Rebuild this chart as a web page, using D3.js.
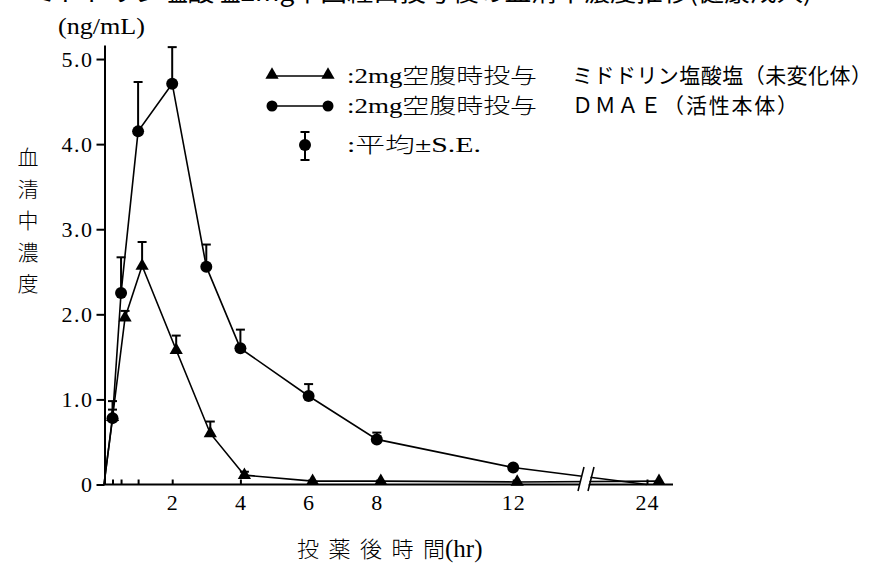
<!DOCTYPE html>
<html>
<head>
<meta charset="utf-8">
<script src="https://cdn.jsdelivr.net/npm/d3@7"></script>
<style>
  body { margin: 0; background: #fff; }
  .serif { font-family: "Liberation Serif", "Noto Sans CJK JP", serif; }
  .gothic { font-family: "Noto Sans CJK JP", sans-serif; }
</style>
</head>
<body>
<div id="chart"></div>
<script>
var times = [0, 0.25, 0.5, 1, 2, 3, 4, 6, 8, 12, 24];
var midodrine = [0, 0.79, 1.96, 2.57, 1.58, 0.60, 0.11, 0.04, 0.04, 0.03, 0.04];
var midodrineSE = [null, 0.09, 0.08, 0.28, 0.17, 0.14, 0.04, null, null, null, null];
var dmae = [0, 0.78, 2.25, 4.15, 4.71, 2.56, 1.60, 1.04, 0.53, 0.20, 0];
var dmaeSE = [null, 0.20, 0.42, 0.58, 0.43, 0.26, 0.22, 0.14, 0.08, null, null];

var xTicks = [0.25, 0.5, 1, 2, 4, 6, 8, 12, 24];
var xLabels = [2, 4, 6, 8, 12, 24];
var yTicks = [0, 1, 2, 3, 4, 5];

var legendText = [":2mg空腹時投与", ":2mg空腹時投与", ":平均±S.E."];
var legendNote = ["ミドドリン塩酸塩（未変化体）", "ＤＭＡＥ（活性本体）"];
var yTitle = "血清中濃度";

var svgWidth = 885;
var svgHeight = 563;

var svg = d3.select("#chart")
  .append("svg")
  .attr("width", svgWidth)
  .attr("height", svgHeight);

var xScale = d3.scaleLinear()
  .domain([0, 12, 24])
  .range([104, 513.2, 647]);

var yScale = d3.scaleLinear()
  .domain([0, 5.165])
  .range([484.5, 45]);

var dodge = 4;

// caption, mostly above the page edge like in the scan
svg.append("text")
  .attr("class", "gothic")
  .attr("x", 30)
  .attr("y", 1)
  .attr("font-size", 24)
  .attr("textLength", 782)
  .attr("lengthAdjust", "spacingAndGlyphs")
  .text("ミドドリン塩酸塩2mg単回経口投与後の血清中濃度推移(健康成人)");

// axes
var leftAxis = d3.axisLeft(yScale)
  .tickValues(yTicks)
  .tickSizeInner(8)
  .tickSizeOuter(0)
  .tickPadding(3)
  .tickFormat(d => d === 0 ? "0" : d3.format(".1f")(d));

var yAxisG = svg.append("g")
  .attr("transform", "translate(104.5,0)")
  .call(leftAxis);
yAxisG.select(".domain").attr("stroke-width", 2);
yAxisG.selectAll(".tick line").attr("stroke-width", 2);
yAxisG.selectAll("text")
  .attr("class", "serif")
  .attr("font-size", 22)
  .attr("letter-spacing", 1.5)
  .attr("fill", "#000");

var bottomAxis = d3.axisBottom(xScale)
  .tickValues(xTicks)
  .tickSizeInner(-5)
  .tickSizeOuter(0)
  .tickPadding(10)
  .tickFormat(d => xLabels.indexOf(d) >= 0 ? d : "");

var xAxisG = svg.append("g")
  .attr("transform", "translate(0,484.5)")
  .call(bottomAxis);
xAxisG.select(".domain").remove();
xAxisG.selectAll(".tick line").attr("stroke-width", 2);
xAxisG.selectAll("text")
  .attr("class", "serif")
  .attr("font-size", 22)
  .attr("letter-spacing", 1)
  .attr("fill", "#000");

svg.append("line")
  .attr("x1", 103.5).attr("x2", 673)
  .attr("y1", 484.5).attr("y2", 484.5)
  .attr("stroke", "#000")
  .attr("stroke-width", 2);

// series
var lineGen = d3.line()
  .x(d => d.x)
  .y(d => yScale(d.v));

var triData = times.map((t, i) => ({ x: xScale(t) + (i > 1 ? dodge : 0) + (t === 24 ? 8 : 0), v: midodrine[i], se: midodrineSE[i] }));
var cirData = times.map((t, i) => ({ x: xScale(t), v: dmae[i], se: dmaeSE[i] }));

[triData, cirData].forEach(function(data) {
  svg.append("path")
    .datum(data)
    .attr("d", lineGen)
    .attr("fill", "none")
    .attr("stroke", "#000")
    .attr("stroke-width", 1.6);

  var bars = data.filter(d => d.se != null);
  svg.selectAll(null).data(bars).enter().append("line")
    .attr("x1", d => d.x).attr("x2", d => d.x)
    .attr("y1", d => yScale(d.v))
    .attr("y2", d => yScale(d.v + d.se))
    .attr("stroke", "#000")
    .attr("stroke-width", 2);
  svg.selectAll(null).data(bars).enter().append("line")
    .attr("x1", d => d.x - 4.5).attr("x2", d => d.x + 4.5)
    .attr("y1", d => yScale(d.v + d.se))
    .attr("y2", d => yScale(d.v + d.se))
    .attr("stroke", "#000")
    .attr("stroke-width", 2);
});

var triangle = d3.symbol().type(d3.symbolTriangle).size(76);

svg.selectAll(null).data(triData.slice(1)).enter().append("path")
  .attr("d", triangle)
  .attr("transform", d => `translate(${d.x},${yScale(d.v)})`)
  .attr("fill", "#000");

svg.selectAll(null).data(cirData.slice(1, 10)).enter().append("circle")
  .attr("cx", d => d.x)
  .attr("cy", d => yScale(d.v))
  .attr("r", 6)
  .attr("fill", "#000");

// axis break
var breakX = 583;
svg.append("polygon")
  .attr("points", `${breakX - 5},491 ${breakX + 1},467 ${breakX + 10},467 ${breakX + 4},491`)
  .attr("fill", "#fff");
[0, 10].forEach(function(dx) {
  svg.append("line")
    .attr("x1", breakX - 5 + dx).attr("y1", 491)
    .attr("x2", breakX + 1 + dx).attr("y2", 467)
    .attr("stroke", "#000")
    .attr("stroke-width", 1.6);
});

// axis titles
svg.append("text")
  .attr("class", "serif")
  .attr("x", 58)
  .attr("y", 34)
  .attr("font-size", 23)
  .attr("textLength", 87)
  .attr("lengthAdjust", "spacingAndGlyphs")
  .text("(ng/mL)");

svg.selectAll(null).data(yTitle.split("")).enter().append("text")
  .attr("class", "gothic")
  .attr("x", 28)
  .attr("y", (d, i) => 165 + i * 31.5)
  .attr("text-anchor", "middle")
  .attr("font-size", 21)
  .attr("font-weight", 300)
  .text(d => d);

var xTitle = svg.append("text")
  .attr("x", 297)
  .attr("y", 557);
xTitle.append("tspan")
  .attr("class", "gothic")
  .attr("font-size", 22)
  .attr("font-weight", 300)
  .attr("letter-spacing", 9.5)
  .text("投薬後時");
xTitle.append("tspan")
  .attr("class", "gothic")
  .attr("font-size", 22)
  .attr("font-weight", 300)
  .text("間");
xTitle.append("tspan")
  .attr("class", "serif")
  .attr("font-size", 25)
  .text("(hr)");

// legend
var legendY = [76, 106];
var lg = svg.append("g");

legendY.forEach(function(y, i) {
  lg.append("line")
    .attr("x1", 272).attr("x2", 328)
    .attr("y1", y).attr("y2", y)
    .attr("stroke", "#000")
    .attr("stroke-width", 1.6);
  [272, 328].forEach(function(x) {
    if (i === 0) {
      lg.append("path")
        .attr("d", triangle)
        .attr("transform", `translate(${x},${y - 1})`);
    } else {
      lg.append("circle")
        .attr("cx", x).attr("cy", y)
        .attr("r", 5.5);
    }
  });
  lg.append("text")
    .attr("class", "serif")
    .attr("x", 347)
    .attr("y", y + 7)
    .attr("font-size", 21)
    .attr("font-weight", 300)
    .attr("textLength", 190)
    .attr("lengthAdjust", "spacingAndGlyphs")
    .text(legendText[i]);
  lg.append("text")
    .attr("class", "gothic")
    .attr("x", 572)
    .attr("y", y + 7)
    .attr("font-size", 21)
    .attr("textLength", i === 0 ? 300 : 226)
    .attr("lengthAdjust", "spacing")
    .text(legendNote[i]);
});

lg.append("line")
  .attr("x1", 305).attr("x2", 305)
  .attr("y1", 132).attr("y2", 160)
  .attr("stroke", "#000").attr("stroke-width", 2);
[132, 160].forEach(function(y) {
  lg.append("line")
    .attr("x1", 300.5).attr("x2", 309.5)
    .attr("y1", y).attr("y2", y)
    .attr("stroke", "#000").attr("stroke-width", 2);
});
lg.append("circle").attr("cx", 305).attr("cy", 145).attr("r", 6);
lg.append("text")
  .attr("class", "serif")
  .attr("x", 347)
  .attr("y", 152)
  .attr("font-size", 21)
  .attr("font-weight", 300)
  .attr("textLength", 134)
  .attr("lengthAdjust", "spacingAndGlyphs")
  .text(legendText[2]);
</script>
</body>
</html>
